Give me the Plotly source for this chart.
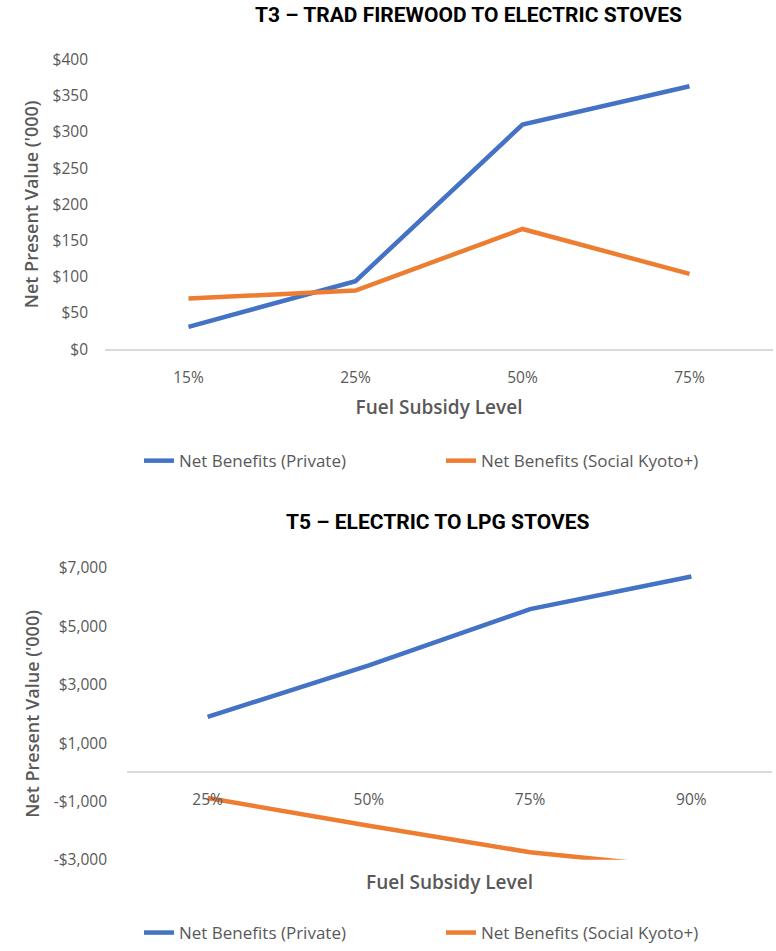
import plotly.graph_objects as go

# ---- data ----
t3_levels = ["15%", "25%", "50%", "75%"]
t3_private = [31, 94, 310, 363]
t3_social = [70, 81, 166, 104]

t5_levels = ["25%", "50%", "75%", "90%"]
t5_private = [1900, 3660, 5590, 6710]
t5_social = [-880, -1830, -2740, -3300]

t3_ticks = [0, 50, 100, 150, 200, 250, 300, 350, 400]
t5_ticks = [-3000, -1000, 1000, 3000, 5000, 7000]

series_names = ["Net Benefits (Private)", "Net Benefits (Social Kyoto+)"]
t3_title = "T3 – TRAD FIREWOOD TO ELECTRIC STOVES"
t5_title = "T5 – ELECTRIC TO LPG STOVES"
y_title = "Net Present Value ('000)"
x_title = "Fuel Subsidy Level"

# ---- styling ----
W, H = 776, 951
BLUE, ORANGE = "#4472C4", "#ED7D31"
GREY_TXT, GREY_LINE = "#595959", "#D9D9D9"
FONT = "Open Sans"
TITLE_FONT = dict(family="Roboto", size=21, color="#000000")


def fx(p):
    return p / W


def fy(p):
    return 1 - p / H


def money(v):
    return f"-${abs(v):,}" if v < 0 else f"${v:,}"


fig = go.Figure()

fig.add_trace(go.Scatter(x=t3_levels, y=t3_private, name=series_names[0], mode="lines",
                         line=dict(color=BLUE, width=4.5), xaxis="x", yaxis="y", legend="legend"))
fig.add_trace(go.Scatter(x=t3_levels, y=t3_social, name=series_names[1], mode="lines",
                         line=dict(color=ORANGE, width=4.5), xaxis="x", yaxis="y", legend="legend"))
fig.add_trace(go.Scatter(x=t5_levels, y=t5_private, name=series_names[0], mode="lines",
                         line=dict(color=BLUE, width=4.5), xaxis="x2", yaxis="y2", legend="legend2"))
fig.add_trace(go.Scatter(x=t5_levels, y=t5_social, name=series_names[1], mode="lines",
                         line=dict(color=ORANGE, width=4.5), xaxis="x2", yaxis="y2", legend="legend2"))

tick_font = dict(family=FONT, size=15.5, color=GREY_TXT)
ytitle_font = dict(family=FONT, size=18, color=GREY_TXT, weight=600)
xtitle_font = dict(family=FONT, size=19, color=GREY_TXT, weight=600)

# bottom panel: category axis sits on the zero line
y2_range = [-3000, 7000]
y2_dom = [fy(869), fy(574)]
zero_pos = y2_dom[0] + (0 - y2_range[0]) / (y2_range[1] - y2_range[0]) * (y2_dom[1] - y2_dom[0])

legend_style = dict(orientation="h", xanchor="left", yanchor="middle",
                    font=dict(family=FONT, size=17, color=GREY_TXT),
                    entrywidth=257, entrywidthmode="pixels", bgcolor="rgba(0,0,0,0)")

fig.update_layout(
    width=W, height=H,
    margin=dict(l=0, r=0, t=0, b=0),
    paper_bgcolor="white", plot_bgcolor="white",
    font=dict(family=FONT, color=GREY_TXT),
    xaxis=dict(domain=[fx(105), fx(773)], type="category", range=[-0.5, 3.5], automargin=False,
               showgrid=False, zeroline=False, showline=True, linecolor=GREY_LINE, linewidth=1.5,
               ticks="", tickfont=tick_font, ticklabelstandoff=13,
               title=dict(text=x_title, font=xtitle_font, standoff=14), anchor="y"),
    yaxis=dict(domain=[fy(353), fy(60)], range=[0, 400], tickvals=t3_ticks, automargin=False,
               ticktext=[money(v) for v in t3_ticks],
               showgrid=False, zeroline=False, showline=False, ticks="",
               tickfont=tick_font, ticklabelstandoff=16,
               title=dict(text=y_title, font=ytitle_font, standoff=9), anchor="x"),
    xaxis2=dict(domain=[fx(127), fx(772)], type="category", range=[-0.5, 3.5], automargin=False,
                showgrid=False, zeroline=False, showline=True, linecolor=GREY_LINE, linewidth=1.5,
                ticks="", tickfont=tick_font, ticklabelstandoff=13,
                anchor="free", position=zero_pos,
                title=dict(text=x_title, font=xtitle_font, standoff=66)),
    yaxis2=dict(domain=y2_dom, range=y2_range, tickvals=t5_ticks, automargin=False,
                ticktext=[money(v) for v in t5_ticks],
                showgrid=False, zeroline=False, showline=False, ticks="",
                tickfont=tick_font, ticklabelstandoff=19,
                title=dict(text=y_title, font=ytitle_font, standoff=9), anchor="x2"),
    legend=dict(x=fx(139), y=fy(466), **legend_style),
    legend2=dict(x=fx(139), y=fy(943), **legend_style),
    annotations=[
        dict(text=f"<b>{t3_title}</b>", x=fx(469), y=fy(15), xref="paper", yref="paper",
             showarrow=False, xanchor="center", yanchor="middle", font=TITLE_FONT),
        dict(text=f"<b>{t5_title}</b>", x=fx(437), y=fy(528), xref="paper", yref="paper",
             showarrow=False, xanchor="center", yanchor="middle", font=TITLE_FONT),
    ],
)

fig.write_html("out.html")
